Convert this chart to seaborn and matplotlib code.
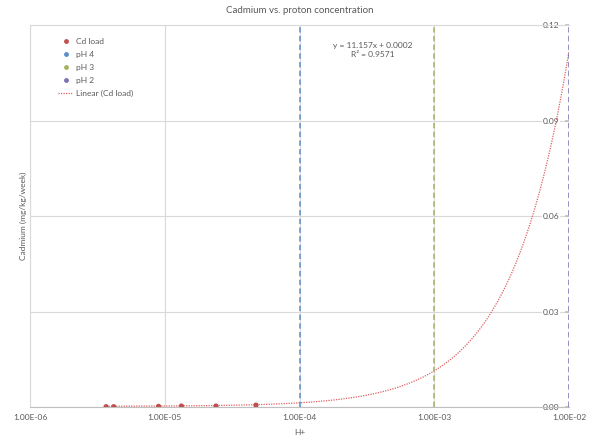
import numpy as np
import pandas as pd
import seaborn as sns
import matplotlib
matplotlib.use("Agg")
import matplotlib.pyplot as plt
from matplotlib.ticker import FuncFormatter, FixedLocator
from matplotlib.lines import Line2D

# Cd load measurements against proton concentration [H+]
h_plus = [3.67e-6, 4.18e-6, 9.0e-6, 1.33e-5, 2.40e-5, 4.75e-5]
cd_load = [0.0001, 0.0001, 0.0002, 0.0003, 0.0003, 0.0006]

# Reference pH levels shown as vertical lines
ph_labels = ["pH 4", "pH 3", "pH 2"]
ph_conc = [1e-4, 1e-3, 1e-2]

# Linear trendline coefficients
slope = 11.157
intercept = 0.0002
r_squared = 0.9571

x_ticks = [1e-6, 1e-5, 1e-4, 1e-3, 1e-2]
y_ticks = [0.00, 0.03, 0.06, 0.09, 0.12]

sns.set_theme(style="white")
plt.rcParams["font.family"] = ["Lato", "DejaVu Sans"]

c_red = "#C0504D"
c_trend = "#E06060"
ph_colors = ["#5B8FCB", "#A8B060", "#7E72B4"]
grid_c = "#D9D9D9"
text_c = "#595959"

fig = plt.figure(figsize=(5.96, 4.40), dpi=100)
ax = fig.add_axes([30 / 596, 1 - 407 / 440, (569 - 30) / 596, (407 - 25) / 440])

df = pd.DataFrame({"H+": h_plus, "Cd": cd_load})

# Trendline evaluated along a log-spaced grid to the right edge
xt = np.logspace(np.log10(min(h_plus)), -2, 400)
ax.plot(xt, slope * xt + intercept, color=c_trend, lw=0.9, ls=(0, (1, 1)), zorder=3)

for conc, col in zip(ph_conc, ph_colors):
    ax.axvline(conc, color=col, lw=1.1, ls=(0, (3.5, 2.2)), zorder=4)

sns.scatterplot(data=df, x="H+", y="Cd", ax=ax, color=c_red, s=14,
                edgecolor="none", zorder=5, legend=False)

ax.set_xscale("log")
ax.set_xlim(1e-6, 1e-2)
ax.set_ylim(0, 0.12)
ax.xaxis.set_major_locator(FixedLocator(x_ticks))
ax.xaxis.set_minor_locator(FixedLocator([]))
ax.xaxis.set_major_formatter(FuncFormatter(lambda v, p: f"{v:.2E}"))
ax.yaxis.set_major_locator(FixedLocator(y_ticks))
ax.yaxis.set_major_formatter(FuncFormatter(lambda v, p: f"{v:.2f}"))

ax.grid(True, color=grid_c, lw=0.8, zorder=0)
for s in ["top", "left"]:
    ax.spines[s].set_color(grid_c)
    ax.spines[s].set_linewidth(0.8)
ax.spines["bottom"].set_color("#BFBFBF")
ax.spines["bottom"].set_linewidth(0.8)
ax.spines["right"].set_visible(False)

ax.tick_params(axis="x", length=0, pad=5, labelsize=6, labelcolor=text_c)
ax.yaxis.tick_right()
ax.tick_params(axis="y", length=3, direction="in", color="#BFBFBF", pad=-7,
               labelsize=6, labelcolor=text_c)
for lbl in ax.get_yticklabels():
    lbl.set_horizontalalignment("right")
    lbl.set_bbox(dict(facecolor="white", edgecolor="none", pad=0.5))

ax.set_xlabel("H+", fontsize=6, color=text_c, labelpad=6)
ax.set_ylabel("Cadmium (mg/kg/week)", fontsize=6, color=text_c, labelpad=2)
ax.yaxis.set_label_position("left")
ax.set_title("Cadmium vs. proton concentration", fontsize=7, color=text_c, pad=9)

ax.text(0.635, 0.955, f"y = {slope}x + {intercept:.4f}\nR\u00b2 = {r_squared}",
        transform=ax.transAxes, ha="center", va="top", fontsize=6,
        color=text_c, linespacing=1.3)

handles = [Line2D([], [], ls="none", marker="o", ms=3.5, color=c_red, mec="none")]
handles += [Line2D([], [], ls="none", marker="o", ms=3.5, color=c, mec="none") for c in ph_colors]
handles.append(Line2D([], [], color=c_trend, lw=0.9, ls=(0, (1, 1))))
labels = ["Cd load"] + ph_labels + ["Linear (Cd load)"]
leg = ax.legend(handles, labels, loc="upper left", bbox_to_anchor=(0.045, 0.975),
                frameon=False, fontsize=6, handlelength=1.9, labelspacing=0.72,
                handletextpad=0.3, borderaxespad=0)
for t in leg.get_texts():
    t.set_color(text_c)

fig.savefig("out.png", dpi=100)
